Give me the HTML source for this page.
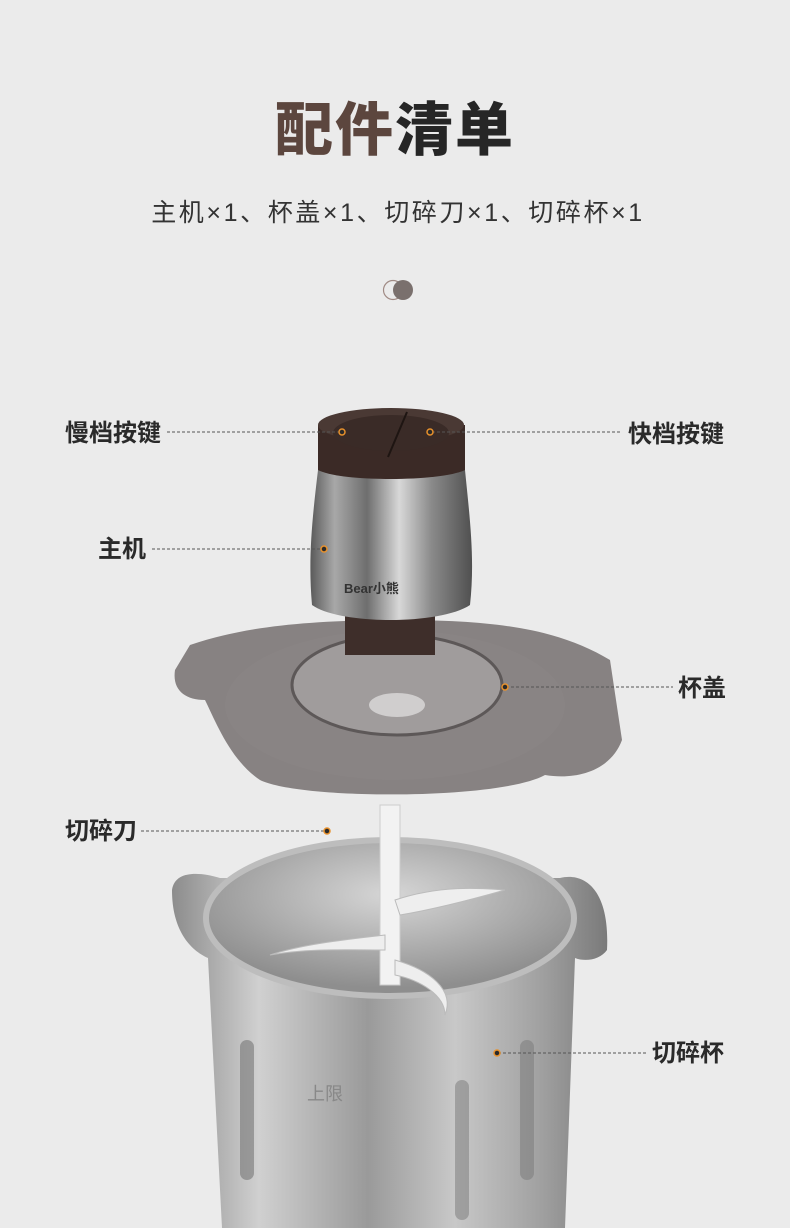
<!DOCTYPE html>
<html><head><meta charset="utf-8"><style>
html,body{margin:0;padding:0;background:#ebebeb;}
body{width:790px;height:1228px;overflow:hidden;position:relative;font-family:"Liberation Sans","Noto Sans CJK SC",sans-serif;}
.t{position:absolute;white-space:nowrap;}
</style></head><body>
<div class="t" style="left:0;width:790px;top:96px;text-align:center;font-size:58px;font-weight:900;letter-spacing:2px;line-height:70px;"><span style="color:#5c463e">配件</span><span style="color:#262626">清单</span></div>
<div class="t" style="left:0;width:796px;top:196px;text-align:center;font-size:25px;letter-spacing:2.6px;color:#333;line-height:34px;">主机×1、杯盖×1、切碎刀×1、切碎杯×1</div>
<svg width="790" height="1228" style="position:absolute;left:0;top:0" xmlns="http://www.w3.org/2000/svg">
<defs>
<linearGradient id="metal" x1="0" x2="1" y1="0" y2="0">
<stop offset="0" stop-color="#5a5a5a"/><stop offset=".15" stop-color="#a8a8a8"/><stop offset=".35" stop-color="#6e6e6e"/><stop offset=".55" stop-color="#d8d8d8"/><stop offset=".75" stop-color="#8a8a8a"/><stop offset="1" stop-color="#505050"/>
</linearGradient>
<linearGradient id="bowl" x1="0" x2="1" y1="0" y2="0">
<stop offset="0" stop-color="#8c8c8c"/><stop offset=".2" stop-color="#d0d0d0"/><stop offset=".45" stop-color="#9a9a9a"/><stop offset=".65" stop-color="#c8c8c8"/><stop offset=".85" stop-color="#a0a0a0"/><stop offset="1" stop-color="#7a7a7a"/>
</linearGradient>
<radialGradient id="inner" cx=".5" cy=".35" r=".6">
<stop offset="0" stop-color="#d6d6d6"/><stop offset="1" stop-color="#8e8e8e"/>
</radialGradient>
</defs>
<circle cx="393" cy="290" r="9.5" fill="none" stroke="#a08a84" stroke-width="1.2"/>
<circle cx="403" cy="290" r="10" fill="#7a706d"/>
<!-- bowl -->
<path d="M172,890 C175,870 200,872 220,878 L560,878 C585,872 610,890 607,950 C600,960 585,962 575,958 L565,1228 L222,1228 L208,958 C190,950 172,930 172,890Z" fill="url(#bowl)"/>
<ellipse cx="390" cy="918" rx="184" ry="78" fill="url(#inner)"/>
<ellipse cx="390" cy="918" rx="184" ry="78" fill="none" stroke="#bdbdbd" stroke-width="6"/>
<rect x="240" y="1040" width="14" height="140" rx="7" fill="#777" opacity=".6"/>
<rect x="455" y="1080" width="14" height="140" rx="7" fill="#777" opacity=".5"/>
<rect x="520" y="1040" width="14" height="140" rx="7" fill="#777" opacity=".5"/>
<text x="307" y="1100" font-size="18" fill="#888" font-family="Liberation Sans,Noto Sans CJK SC,sans-serif">上限</text>
<!-- blade -->
<rect x="380" y="805" width="20" height="180" fill="#f2f2f2" stroke="#ccc"/>
<path d="M395,900 C440,885 480,888 505,890 C470,900 430,910 400,915Z" fill="#eee" stroke="#bbb"/>
<path d="M385,935 C340,940 300,945 270,955 C310,948 350,950 385,950Z" fill="#eee" stroke="#bbb"/>
<path d="M395,960 C430,970 455,990 445,1015 C445,995 420,980 395,975Z" fill="#eee" stroke="#bbb"/>
<!-- lid -->
<path d="M190,645 C240,628 300,620 400,620 C500,620 560,630 610,660 L622,740 C610,772 575,780 545,775 C500,800 300,800 260,780 C230,760 215,720 205,700 C185,700 172,690 175,670 Z" fill="#6e6868" opacity=".8"/>
<ellipse cx="395" cy="705" rx="170" ry="75" fill="#8a8585" opacity=".7"/>
<ellipse cx="397" cy="685" rx="105" ry="50" fill="#a09c9c" stroke="#5d5858" stroke-width="3"/>
<ellipse cx="397" cy="705" rx="28" ry="12" fill="#d0cece"/>
<!-- motor -->
<path d="M345,615 L435,615 L435,655 L345,655Z" fill="#3e2e2a"/>
<path d="M318,470 L465,470 C470,520 475,560 470,605 C440,625 340,625 312,605 C308,560 312,520 318,470Z" fill="url(#metal)"/>
<path d="M318,425 L465,425 L465,470 C440,482 340,482 318,470Z" fill="#3b2a26"/>
<ellipse cx="391" cy="425" rx="73" ry="17" fill="#4a3934"/>
<ellipse cx="391" cy="433" rx="58" ry="18" fill="#3a2b27"/>
<path d="M407,412 L388,457" stroke="#1e1512" stroke-width="2"/>
<text x="344" y="593" font-size="13" font-weight="bold" fill="#333">Bear小熊</text>
<!-- leaders -->
<g stroke="#555" stroke-width="1" stroke-dasharray="3,2" fill="none">
<path d="M167,432 H341"/><path d="M432,432 H622"/><path d="M152,549 H323"/>
<path d="M506,687 H673"/><path d="M141,831 H326"/><path d="M498,1053 H648"/>
</g>
<g fill="#2a2a2a" stroke="#e8912c" stroke-width="1.5">
<circle cx="342" cy="432" r="3"/><circle cx="430" cy="432" r="3"/><circle cx="324" cy="549" r="3"/>
<circle cx="505" cy="687" r="3"/><circle cx="327" cy="831" r="3"/><circle cx="497" cy="1053" r="3"/>
</g>
<g font-family="Liberation Sans,Noto Sans CJK SC,sans-serif" font-size="24" fill="#2a2a2a" font-weight="bold">
<text x="65" y="441">慢档按键</text><text x="628" y="442">快档按键</text>
<text x="98" y="557">主机</text><text x="678" y="696">杯盖</text>
<text x="65" y="839">切碎刀</text><text x="652" y="1061">切碎杯</text>
</g>
</svg>
</body></html>
